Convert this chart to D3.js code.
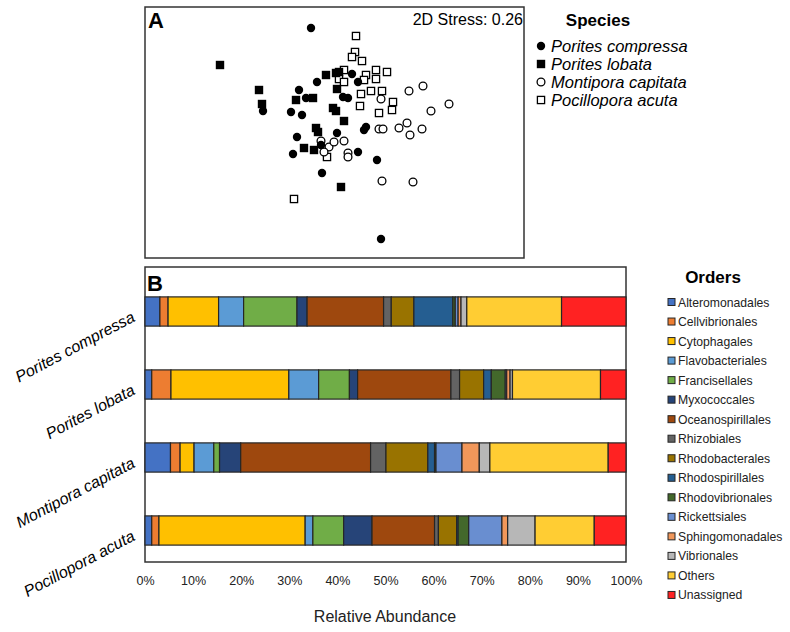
<!DOCTYPE html>
<html>
<head>
<meta charset="utf-8">
<script src="https://cdn.jsdelivr.net/npm/d3@7"></script>
<style>
  body { margin: 0; background: #fff; }
  text { font-family: "Liberation Sans", Arial, sans-serif; }
</style>
</head>
<body>
<div id="fig"></div>
<script>
// nmds scores per species (arbitrary NMDS units)
var species = ['Porites compressa', 'Porites lobata', 'Montipora capitata', 'Pocillopora acuta'];

var pcompX = [-0.24, -0.72, -0.36, -0.29, -0.44, -0.33, -0.18, 0.17, 0.23, 0.08, 0.13, 0.31, 0.29, -0.38, -0.42, 0.02, -0.14, -0.13, 0.23, 0.42, 0.46];
var pcompY = [1.02, 0.19, 0.40, 0.32, 0.18, 0.15, 0.48, 0.56, 0.48, 0.33, 0.32, 0.03, 0.00, -0.07, -0.24, -0.03, -0.15, -0.43, -0.22, -0.30, -1.09];

var plobX = [-1.15, -0.76, -0.73, -0.39, -0.22, -0.09, 0.01, 0.04, 0.02, -0.02, 0.01, 0.09, -0.19, -0.17, -0.31, -0.21, 0.06];
var plobY = [0.65, 0.40, 0.26, 0.30, 0.32, 0.55, 0.57, 0.58, 0.41, 0.22, 0.19, 0.09, 0.02, -0.02, -0.18, -0.20, -0.57];

var mcapX = [0.46, 0.74, 0.88, 1.14, 0.96, 0.72, 0.64, 0.75, 0.87, 0.44, 0.48, -0.14, -0.06, -0.01, 0.09, -0.11, 0.13, 0.13, 0.47, 0.78];
var mcapY = [0.31, 0.39, 0.44, 0.26, 0.19, 0.07, 0.02, -0.05, 0.01, 0.01, 0.01, -0.11, -0.17, -0.12, -0.11, -0.22, -0.23, -0.27, -0.51, -0.52];

var pacuX = [0.21, 0.20, 0.17, 0.27, 0.09, 0.04, 0.09, 0.31, 0.29, 0.41, 0.41, 0.52, 0.26, 0.36, 0.47, 0.25, 0.44, 0.58, 0.57, -0.08, -0.41];
var pacuY = [0.94, 0.78, 0.73, 0.69, 0.60, 0.51, 0.48, 0.55, 0.50, 0.60, 0.51, 0.58, 0.36, 0.39, 0.39, 0.24, 0.17, 0.28, 0.20, -0.27, -0.69];

var stress = '2D Stress: 0.26';

// relative abundance (%) per order, same order as species above
var orders = ['Alteromonadales', 'Cellvibrionales', 'Cytophagales', 'Flavobacteriales', 'Francisellales',
  'Myxococcales', 'Oceanospirillales', 'Rhizobiales', 'Rhodobacterales', 'Rhodospirillales',
  'Rhodovibrionales', 'Rickettsiales', 'Sphingomonadales', 'Vibrionales', 'Others', 'Unassigned'];

var pcompAbund = [3.1, 1.7, 10.5, 5.2, 11.1, 2.1, 15.9, 1.6, 4.7, 8.1, 0.5, 0.6, 0.6, 1.2, 19.7, 13.4];
var plobAbund  = [1.4, 4.0, 24.5, 6.2, 6.4, 1.7, 19.4, 1.8, 5.0, 1.6, 2.9, 0.3, 0.7, 0.5, 18.3, 5.3];
var mcapAbund  = [5.3, 2.0, 2.9, 4.1, 1.2, 4.4, 27.0, 3.2, 8.7, 1.4, 0.3, 5.4, 3.6, 2.2, 24.6, 3.7];
var pacuAbund  = [1.4, 1.5, 30.4, 1.6, 6.4, 5.9, 13.0, 0.8, 3.8, 0.3, 2.2, 6.9, 1.2, 5.7, 12.3, 6.6];

var xTicks = [0, 10, 20, 30, 40, 50, 60, 70, 80, 90, 100];

var orderColors = ['#4472C4', '#ED7D31', '#FFC000', '#5B9BD5', '#70AD47', '#264478', '#9E480E', '#636363',
  '#997300', '#255E91', '#43682B', '#698ED0', '#F1975A', '#B7B7B7', '#FFCD33', '#FF2222'];

var W = 790, H = 632;
var svg = d3.select('#fig').append('svg')
  .attr('width', W)
  .attr('height', H);

//---- panel A: nmds ----
var ax = {left: 145, right: 524, top: 7, bottom: 258};

var x = d3.scaleLinear().domain([-1.9, 1.89]).range([ax.left, ax.right]);
var y = d3.scaleLinear().domain([1.23, -1.28]).range([ax.top, ax.bottom]);

svg.append('rect')
  .attr('x', ax.left).attr('y', ax.top)
  .attr('width', ax.right - ax.left).attr('height', ax.bottom - ax.top)
  .attr('fill', 'none').attr('stroke', '#333').attr('stroke-width', 1.5);

var groups = [
  {name: species[0], xs: pcompX, ys: pcompY, shape: 'circle', fill: true},
  {name: species[1], xs: plobX, ys: plobY, shape: 'square', fill: true},
  {name: species[2], xs: mcapX, ys: mcapY, shape: 'circle', fill: false},
  {name: species[3], xs: pacuX, ys: pacuY, shape: 'square', fill: false}
];

function drawMark(g, shape, filled, cx, cy) {
  if (shape === 'circle') {
    g.append('circle')
      .attr('cx', cx).attr('cy', cy)
      .attr('r', filled ? 4.2 : 3.9)
      .attr('fill', filled ? '#000' : '#fff')
      .attr('stroke', '#000').attr('stroke-width', filled ? 0 : 1.3);
  } else {
    var s = filled ? 8.4 : 7.2;
    g.append('rect')
      .attr('x', cx - s / 2).attr('y', cy - s / 2)
      .attr('width', s).attr('height', s)
      .attr('fill', filled ? '#000' : '#fff')
      .attr('stroke', '#000').attr('stroke-width', filled ? 0 : 1.3);
  }
}

var pts = svg.append('g');
// draw open symbols first, filled on top
[3, 2, 1, 0].forEach(function(i) {
  var gr = groups[i];
  gr.xs.forEach(function(v, j) {
    drawMark(pts, gr.shape, gr.fill, x(v), y(gr.ys[j]));
  });
});

svg.append('text')
  .attr('x', 148).attr('y', 28)
  .attr('font-size', 22).attr('font-weight', 'bold')
  .text('A');

svg.append('text')
  .attr('x', 523).attr('y', 25)
  .attr('text-anchor', 'end')
  .attr('font-size', 16)
  .text(stress);

// species legend
svg.append('text')
  .attr('x', 598).attr('y', 26)
  .attr('text-anchor', 'middle')
  .attr('font-size', 17).attr('font-weight', 'bold')
  .text('Species');

groups.forEach(function(gr, i) {
  var ly = 46 + i * 18;
  drawMark(svg, gr.shape, gr.fill, 541, ly);
  svg.append('text')
    .attr('x', 551).attr('y', ly + 5.5)
    .attr('font-size', 16.5).attr('font-style', 'italic')
    .text(gr.name);
});

//---- panel B: stacked bars ----
var bx = {left: 145, right: 626, top: 267, bottom: 562};

var xb = d3.scaleLinear().domain([0, 100]).range([bx.left, bx.right]);
var yb = d3.scaleBand().domain(species).range([275, 567]).paddingInner(0.6).paddingOuter(0.3);

svg.append('rect')
  .attr('x', bx.left).attr('y', bx.top)
  .attr('width', bx.right - bx.left).attr('height', bx.bottom - bx.top)
  .attr('fill', 'none').attr('stroke', '#333').attr('stroke-width', 1.5);

var abund = [pcompAbund, plobAbund, mcapAbund, pacuAbund];
var rows = species.map(function(sp, i) {
  var row = {species: sp};
  orders.forEach(function(o, k) { row[o] = abund[i][k]; });
  return row;
});

var stack = d3.stack().keys(orders)(rows);

svg.append('g').selectAll('g')
  .data(stack)
  .enter()
  .append('g')
  .attr('fill', function(d, i) { return orderColors[i]; })
  .selectAll('rect')
  .data(function(d) { return d; })
  .enter()
  .append('rect')
  .attr('x', function(d) { return xb(d[0]); })
  .attr('y', function(d) { return yb(d.data.species); })
  .attr('width', function(d) { return xb(d[1]) - xb(d[0]); })
  .attr('height', yb.bandwidth())
  .attr('stroke', '#262626')
  .attr('stroke-width', 1.2);

svg.append('text')
  .attr('x', 147).attr('y', 291)
  .attr('font-size', 22).attr('font-weight', 'bold')
  .text('B');

// x axis, labels only
var xAxis = svg.append('g')
  .attr('transform', 'translate(0,' + bx.bottom + ')')
  .call(d3.axisBottom(xb).tickValues(xTicks).tickSize(0).tickPadding(14)
    .tickFormat(function(d) { return d + '%'; }));
xAxis.select('.domain').remove();
xAxis.selectAll('text')
  .attr('font-size', 12.5)
  .attr('fill', '#222')
  .style('font-family', '"Liberation Sans", Arial, sans-serif');

svg.append('text')
  .attr('x', 385).attr('y', 622)
  .attr('text-anchor', 'middle')
  .attr('font-size', 16)
  .attr('fill', '#222')
  .text('Relative Abundance');

// slanted species labels
species.forEach(function(sp) {
  var cy = yb(sp) + yb.bandwidth() / 2;
  svg.append('text')
    .attr('transform', 'translate(136,' + (cy + 9) + ') rotate(-28)')
    .attr('text-anchor', 'end')
    .attr('font-size', 16).attr('font-style', 'italic')
    .text(sp);
});

// orders legend
svg.append('text')
  .attr('x', 713).attr('y', 283)
  .attr('text-anchor', 'middle')
  .attr('font-size', 17).attr('font-weight', 'bold')
  .text('Orders');

orders.forEach(function(o, i) {
  var ly = 302 + i * 19.53;
  svg.append('rect')
    .attr('x', 668).attr('y', ly - 3.5)
    .attr('width', 7).attr('height', 7)
    .attr('fill', orderColors[i])
    .attr('stroke', '#262626').attr('stroke-width', 1);
  svg.append('text')
    .attr('x', 678).attr('y', ly + 4.5)
    .attr('font-size', 12.2)
    .attr('fill', '#222')
    .text(o);
});
</script>
</body>
</html>
